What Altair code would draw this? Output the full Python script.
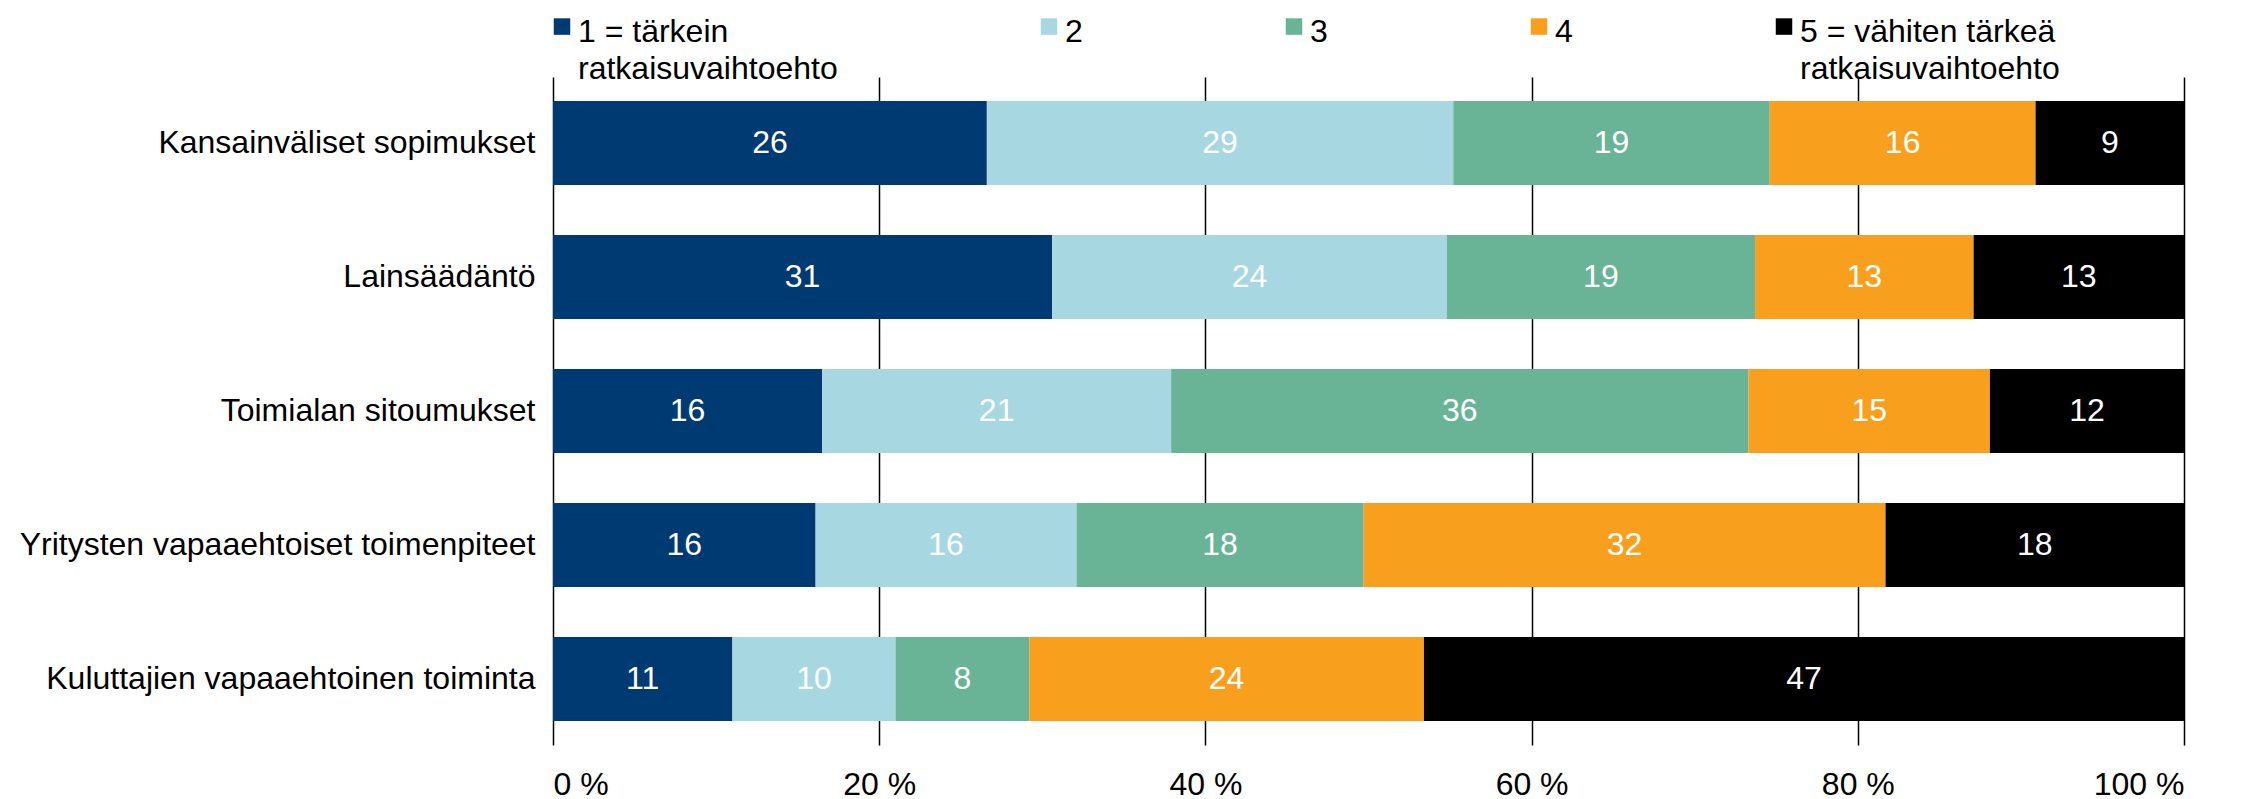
import altair as alt
import pandas as pd

categories = [
    "Kansainväliset sopimukset",
    "Lainsäädäntö",
    "Toimialan sitoumukset",
    "Yritysten vapaaehtoiset toimenpiteet",
    "Kuluttajien vapaaehtoinen toiminta",
]
series = ["1 = tärkein\nratkaisuvaihtoehto", "2", "3", "4", "5 = vähiten tärkeä\nratkaisuvaihtoehto"]
colors = ["#003A73", "#A7D8E1", "#69B496", "#F89F1E", "#000000"]

# shares (%), one list per series (rows in category order)
s1 = [26.6, 30.6, 16.5, 16.1, 11.0]
s2 = [28.6, 24.2, 21.4, 16.0, 10.0]
s3 = [19.4, 18.9, 35.4, 17.6, 8.2]
s4 = [16.3, 13.4, 14.8, 32.0, 24.2]
s5 = [9.1, 12.9, 11.9, 18.3, 46.6]
# printed value labels
l1 = [26, 31, 16, 16, 11]
l2 = [29, 24, 21, 16, 10]
l3 = [19, 19, 36, 18, 8]
l4 = [16, 13, 15, 32, 24]
l5 = [9, 13, 12, 18, 47]
ticks = [0, 20, 40, 60, 80, 100]

rows = []
for k, (vals, labs) in enumerate(zip([s1, s2, s3, s4, s5], [l1, l2, l3, l4, l5])):
    for c, v, lab in zip(categories, vals, labs):
        rows.append({"category": c, "series": series[k], "order": k, "value": v, "label": str(lab)})
df = pd.DataFrame(rows)

FONT = "Liberation Sans"
FS = 32
LH = 37
# square legend symbol, shifted so that it lines up with the first text line
SYMBOL = "M-1,-1.66H1V0.34H-1Z"

base = (
    alt.Chart(df)
    .transform_stack(stack="value", groupby=["category"], as_=["x0", "x1"],
                     sort=[alt.SortField(field="order", order="ascending")])
    .transform_calculate(mid="(datum.x0 + datum.x1) / 2")
)

yenc = alt.Y(
    "category:N",
    sort=categories,
    scale=alt.Scale(paddingInner=0.373, paddingOuter=0.18),
    axis=alt.Axis(title=None, domain=False, ticks=False, labelFontSize=FS, labelFont=FONT,
                  labelColor="black", labelPadding=18, labelLimit=700),
)

bars = base.mark_bar().encode(
    x=alt.X(
        "x0:Q",
        scale=alt.Scale(domain=[0, 100], nice=False),
        axis=alt.Axis(values=ticks, labelExpr="datum.value + ' %'", title=None, domain=False,
                      ticks=False, grid=True, gridColor="black", gridWidth=1.5, gridOpacity=1,
                      labelFontSize=FS, labelFont=FONT, labelColor="black", labelPadding=24),
    ),
    x2="x1:Q",
    y=yenc,
    color=alt.Color(
        "series:N",
        scale=alt.Scale(domain=series, range=colors),
        legend=alt.Legend(
            orient="none", legendX=-7, legendY=-61, direction="horizontal", columns=5,
            title=None, symbolType=SYMBOL, symbolSize=272, symbolStrokeWidth=0,
            labelFontSize=FS, labelFont=FONT, labelColor="black", labelOffset=0,
            columnPadding=195,
            labelExpr="indexof(datum.label, '\\n') >= 0 ? split(datum.label, '\\n') : [datum.label, '']",
            labelLimit=500, padding=0, labelBaseline="middle",
        ),
    ),
)

texts = base.mark_text(color="white", fontSize=FS, font=FONT).encode(
    x="mid:Q",
    y=alt.Y("category:N", sort=categories),
    text="label:N",
)

chart = (
    alt.layer(bars, texts)
    .properties(
        width=1631,
        height=668,
        padding={"left": 545, "top": 69, "right": 65, "bottom": 60},
        autosize=alt.AutoSizeParams(type="none"),
    )
    .configure(style={"guide-label": {"lineHeight": LH}})
    .configure_view(strokeWidth=0)
)

chart.save("out.html", embed_options={"renderer": "svg", "actions": False})
